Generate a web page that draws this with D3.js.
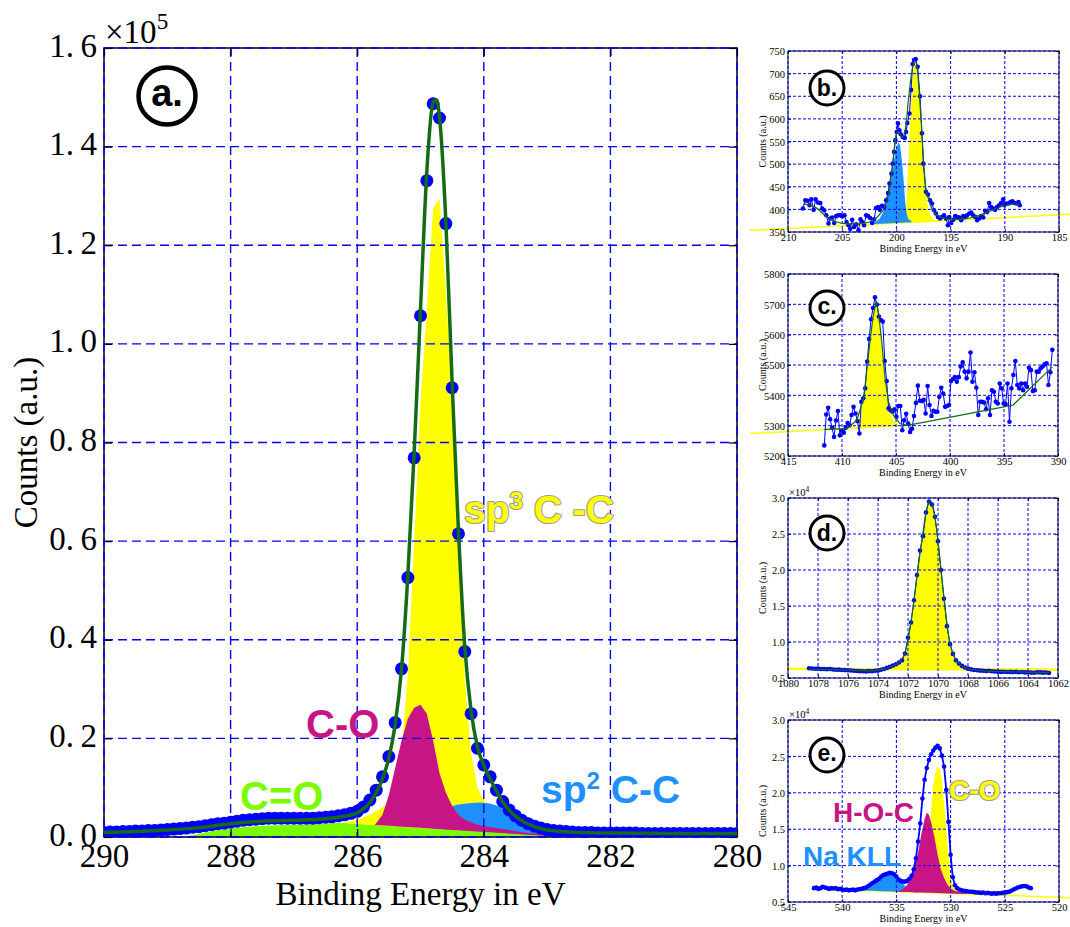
<!DOCTYPE html>
<html>
<head>
<meta charset="utf-8">
<script src="https://cdn.jsdelivr.net/npm/d3@7"></script>
<style>body{margin:0;background:#fff}</style>
</head>
<body>
<svg id="fig" width="1070" height="927"></svg>
<script>
var serif = "'Liberation Serif', 'Times New Roman', serif";
var sans = "'Liberation Sans', Arial, sans-serif";

// ---------- panel a : C 1s (counts x1e5) ----------
var aEnergy = d3.range(101).map(function(i) { return +(290 - i * 0.1).toFixed(1); });
var aCounts = [.009,.010,.010,.011,.011,.012,.012,.013,.013,.014,
  .015,.016,.017,.018,.020,.021,.023,.025,.027,.028,
  .030,.032,.034,.035,.036,.037,.038,.038,.038,.038,
  .038,.038,.038,.038,.039,.040,.041,.043,.045,.048,
  .052,.061,.075,.095,.122,.163,.232,.341,.526,.769,
  1.057,1.331,1.487,1.458,1.244,.911,.615,.376,.250,.180,
  .146,.122,.095,.072,.055,.043,.034,.027,.022,.018,
  .015,.013,.012,.011,.010,.009,.009,.009,.008,.008,
  .008,.008,.008,.008,.008,.007,.007,.007,.007,.007,
  .007,.007,.007,.007,.007,.007,.007,.007,.007,.007,.007];
var aFitE = [290,289.5,289,288.5,288,287.5,287,286.5,286.2,286,285.9,285.8,285.7,285.6,285.5,285.4,285.3,285.2,285.1,285.0,
  284.9,284.8,284.75,284.7,284.6,284.5,284.4,284.3,284.2,284.1,284.0,283.9,283.8,283.7,283.6,283.4,283.2,283.0,282.5,282,281,280];
var aFitV = [.009,.011,.014,.019,.027,.032,.034,.037,.042,.049,.057,.070,.090,.118,.160,.228,.340,.53,.78,1.07,
  1.35,1.49,1.495,1.46,1.25,.92,.62,.385,.255,.183,.145,.118,.093,.071,.054,.033,.021,.014,.009,.008,.007,.007];
var aBgE = [286.28, 282.74], aBgV = [.029, 0];
var aCdoE = [288.8,288.5,288.2,287.9,287.6,287.3,287.0,286.7,286.4,286.28,282.74];
var aCdoV = [0,.006,.014,.019,.022,.024,.025,.026,.028,.029,0];
var aSp3E = [286.2,286.0,285.8,285.6,285.5,285.4,285.3,285.2,285.1,285.0,284.9,284.8,284.7,284.6,284.5,284.4,284.3,284.2,284.1,284.0,283.9,283.7,283.5,283.2,283.0];
var aSp3V = [.03,.035,.045,.06,.072,.10,.17,.33,.60,.88,1.07,1.275,1.295,1.11,.88,.58,.32,.17,.10,.075,.06,.04,.03,.015,.01];
var aSp2E = [284.8,284.6,284.4,284.2,284.05,283.9,283.7,283.5,283.3,283.1,282.9,282.7];
var aSp2V = [.05,.06,.066,.069,.070,.068,.060,.045,.027,.013,.005,.001];
var aCoE = [285.72,285.6,285.5,285.4,285.3,285.2,285.1,285.0,284.9,284.8,284.7,284.6,284.5,284.4,284.3,284.1,283.9,283.6,283.3,283.0];
var aCoV = [.024,.045,.085,.14,.195,.24,.262,.268,.25,.195,.13,.09,.063,.045,.035,.025,.02,.014,.008,.004];
var aXTicks = [290,288,286,284,282,280];
var aYTicks = [0,0.2,0.4,0.6,0.8,1.0,1.2,1.4,1.6];

// ---------- panel b ----------
var bE = [208.62,208.40,208.19,208.01,207.85,207.64,207.45,207.24,207.02,206.84,
  206.66,206.47,206.26,206.10,205.92,205.74,205.55,205.37,205.18,205.00,
  204.79,204.60,204.42,204.26,204.08,203.90,203.71,203.50,203.31,203.16,
  202.98,202.79,202.61,202.42,202.24,202.06,201.87,201.69,201.53,201.32,
  201.13,200.95,200.77,200.64,200.46,200.34,200.21,200.09,199.97,199.85,
  199.72,199.60,199.42,199.23,199.11,198.99,198.80,198.65,198.50,198.37,
  198.22,198.04,197.82,197.64,197.52,197.27,197.09,196.90,196.72,196.53,
  196.35,196.17,195.98,195.80,195.61,195.43,195.25,195.12,194.94,194.75,
  194.57,194.39,194.20,194.02,193.83,193.65,193.47,193.28,193.10,192.91,
  192.73,192.55,192.36,192.18,191.99,191.81,191.63,191.44,191.26,191.07,
  190.89,190.71,190.52,190.34,190.15,190.03,189.85,189.66,189.48,189.29,
  189.11,188.93,188.74,188.62];
var bCounts = [402,420,419,409,422,399,422,415,414,402,
  398,387,369,380,382,370,385,387,387,385,
  387,372,365,357,377,361,367,354,378,372,
  365,387,385,381,370,378,403,405,399,408,
  405,420,436,457,479,501,527,553,571,590,
  575,566,560,558,571,591,612,664,721,730,
  732,715,650,568,501,439,433,420,413,398,
  391,383,380,383,387,380,365,383,370,377,
  385,383,382,376,385,383,387,391,393,387,
  383,376,380,385,382,397,394,414,405,402,
  399,405,409,414,422,409,413,413,416,418,
  414,413,416,409];
var bFitE = [208.6,207.5,206.5,205.5,204.5,203.5,202.5,202.0,201.5,201.0,200.6,200.3,200.1,199.9,199.7,199.5,199.3,199.1,198.9,
  198.6,198.3,198.1,197.9,197.7,197.5,197.3,197.0,196.7,196.3,195.8,195.0,194.0,193.0,192.0,191.0,190.0,189.0,188.6];
var bFitV = [412,405,385,372,368,368,372,378,390,410,450,510,555,572,568,560,565,590,640,
  700,728,715,660,590,510,450,420,400,388,382,378,378,382,390,400,408,412,410];
var bBgE = [213.5, 184.0], bBgV = [353.7, 389.1];
var bBlueE = [202.4,202.0,201.6,201.3,201.0,200.8,200.6,200.4,200.2,200.0,199.8,199.65,199.5,199.35,199.2,199.05,198.9,198.6];
var bBlueV = [369,372,378,390,410,425,445,475,510,535,549,540,510,470,420,390,378,374];
var bYelE = [199.3,199.1,199.0,198.8,198.65,198.5,198.35,198.22,198.1,197.9,197.7,197.5,197.3,197.1,196.9,196.6,196.2,195.8];
var bYelV = [373,400,450,560,640,700,722,727,715,660,580,500,440,405,388,378,375,376];

// ---------- panel c ----------
var cEnergy = d3.range(118).map(function(i) { return 411.64 - i * 0.1805; });
var cCounts = [5235,5337,5359,5321,5293,5263,5317,5348,5268,5283,
  5277,5293,5309,5301,5335,5362,5340,5315,5274,5379,
  5390,5423,5511,5586,5651,5688,5723,5699,5660,5648,
  5643,5513,5447,5357,5351,5346,5354,5329,5365,5365,
  5285,5318,5339,5307,5279,5290,5332,5375,5432,5382,
  5381,5385,5340,5431,5368,5332,5349,5346,5346,5395,
  5425,5406,5362,5365,5368,5447,5454,5460,5445,5460,
  5495,5509,5478,5456,5478,5541,5445,5476,5425,5335,
  5379,5379,5376,5354,5390,5335,5417,5412,5379,5373,
  5439,5423,5373,5371,5439,5313,5423,5467,5513,5434,
  5423,5439,5417,5439,5428,5491,5483,5414,5417,5478,
  5478,5489,5495,5502,5506,5434,5476,5550];
var cFitE = [411.64,409.55,408.63,408.0,407.55,407.15,406.84,406.63,406.32,406.01,405.7,405.24,404.62,404.0,403.08,394.16,393.85,390.52];
var cFitV = [5288,5290,5318,5390,5533,5654,5710,5676,5577,5456,5379,5334,5307,5301,5307,5368,5379,5494];
var cBgE = [418.5, 404.0], cBgV = [5274, 5301];
var cYelE = [409.0,408.6,408.3,408.0,407.7,407.4,407.1,406.9,406.8,406.6,406.4,406.1,405.8,405.5,405.2,404.8,404.4];
var cYelV = [5290,5300,5330,5385,5480,5590,5670,5708,5712,5680,5600,5480,5390,5340,5315,5303,5300];

// ---------- panel d (x1e4) ----------
var dEnergy = d3.range(81).map(function(i) { return 1078.6 - i * 0.2; });
var dCounts = [.635,.632,.628,.630,.625,.626,.622,.624,.618,.615,
  .616,.612,.610,.607,.605,.600,.598,.595,.594,.592,
  .596,.593,.600,.603,.615,.625,.640,.655,.672,.690,
  .715,.745,.840,1.06,1.27,1.58,1.93,2.27,2.47,2.80,
  2.95,2.91,2.74,2.40,2.00,1.60,1.22,.97,.835,.745,
  .700,.668,.645,.630,.620,.612,.607,.603,.600,.597,
  .600,.594,.590,.588,.585,.587,.583,.585,.582,.585,
  .580,.583,.578,.580,.575,.572,.580,.578,.574,.577,.570];
var dFitE = [1078.6,1076,1074.5,1073.5,1072.8,1072.4,1072.1,1071.9,1071.6,1071.3,1071.0,1070.8,1070.6,1070.5,1070.3,1070.1,
  1069.9,1069.7,1069.5,1069.3,1069.1,1068.8,1068.4,1068,1067,1065,1062.6];
var dFitV = [.625,.61,.60,.63,.69,.76,.93,1.15,1.58,2.08,2.52,2.80,2.95,2.96,2.85,2.58,
  2.20,1.80,1.43,1.10,.90,.75,.67,.63,.60,.585,.575];
var dBgE = [1080, 1062], dBgV = [0.63, 0.615];

// ---------- panel e (x1e4) ----------
var eEnergy = d3.range(101).map(function(i) { return 542.6 - i * 0.2; });
var eCounts = [.69,.70,.68,.69,.71,.70,.69,.68,.69,.685,
  .69,.675,.68,.67,.665,.67,.66,.665,.67,.66,
  .67,.675,.68,.69,.70,.72,.74,.76,.78,.80,
  .82,.85,.87,.88,.89,.90,.895,.88,.85,.81,
  .79,.78,.78,.79,.82,.86,.95,1.10,1.33,1.58,
  1.92,2.18,2.34,2.45,2.53,2.58,2.62,2.645,2.61,2.51,
  2.36,2.04,1.60,1.15,.84,.73,.69,.67,.66,.655,
  .65,.645,.64,.64,.635,.63,.63,.625,.63,.62,
  .625,.62,.615,.62,.615,.62,.62,.625,.63,.635,
  .64,.655,.67,.685,.70,.71,.715,.72,.715,.70,.69];
var eBgE = [538.5, 519.0], eBgV = [0.66, 0.56];
var eNaE = [538.4,538.0,537.6,537.2,536.8,536.4,536.0,535.7,535.4,535.0,534.6,534.2,533.8,533.4,533.0];
var eNaV = [.66,.67,.70,.75,.79,.84,.875,.89,.88,.84,.78,.72,.68,.66,.65];
var eHocE = [535.0,534.6,534.2,533.8,533.4,533.0,532.7,532.4,532.2,532.0,531.8,531.5,531.2,530.9,530.6,530.3,530.0,529.6,529.0,528.5];
var eHocV = [.645,.66,.70,.78,.93,1.18,1.43,1.64,1.725,1.70,1.60,1.40,1.15,.95,.83,.74,.69,.65,.63,.62];
var eCoE = [532.6,532.3,532.0,531.8,531.6,531.4,531.2,531.0,530.8,530.6,530.4,530.2,530.0,529.8,529.6,529.3,529.0];
var eCoV = [.655,.80,1.20,1.75,2.10,2.28,2.36,2.33,2.15,1.85,1.50,1.15,.85,.72,.67,.64,.63];

var YELLOW = "#ffff00", MAGENTA = "#c71585", BLUE = "#1e90ff", LGREEN = "#7cfc00", FIT = "#156b15";

var svg = d3.select("#fig");
svg.append("rect").attr("width", 1070).attr("height", 927).attr("fill", "#fff");
var defs = svg.append("defs");

function makePanel(p) {
  var x = d3.scaleLinear().domain(p.xd).range([p.l, p.r]);
  var y = d3.scaleLinear().domain(p.yd).range([p.b, p.t]);
  defs.append("clipPath").attr("id", "clip-" + p.id).append("rect")
    .attr("x", p.l).attr("y", p.t).attr("width", p.r - p.l).attr("height", p.b - p.t);
  return { x: x, y: y, g: svg.append("g"), clip: "url(#clip-" + p.id + ")", p: p };
}

function pairs(es, vs) { return es.map(function(e, i) { return [e, vs[i]]; }); }

function fill(P, es, vs, base, color) {
  var area = d3.area()
    .x(function(d) { return P.x(d[0]); })
    .y0(function(d) { return P.y(base(d[0])); })
    .y1(function(d) { return P.y(Math.max(d[1], base(d[0]))); });
  P.g.append("path").datum(pairs(es, vs)).attr("d", area)
    .attr("fill", color).attr("clip-path", P.clip);
}

function line(P, es, vs, color, w, curve, noclip) {
  var ln = d3.line().x(function(d) { return P.x(d[0]); }).y(function(d) { return P.y(d[1]); });
  if (curve) ln.curve(curve);
  var path = P.g.append("path").datum(pairs(es, vs)).attr("d", ln)
    .attr("fill", "none").attr("stroke", color).attr("stroke-width", w).attr("stroke-linejoin", "round");
  if (!noclip) path.attr("clip-path", P.clip);
}

function dots(P, es, vs, r) {
  P.g.append("g").attr("clip-path", P.clip).selectAll("circle").data(pairs(es, vs)).join("circle")
    .attr("cx", function(d) { return P.x(d[0]); })
    .attr("cy", function(d) { return P.y(d[1]); })
    .attr("r", r).attr("fill", "#0000ff");
}

function axes(P, o) {
  var p = P.p, g = P.g;
  g.append("rect").attr("x", p.l).attr("y", p.t).attr("width", p.r - p.l).attr("height", p.b - p.t)
    .attr("fill", "none").attr("stroke", "#000").attr("stroke-width", o.fw);
  var gg = g.append("g").attr("stroke", "#0000ff").attr("stroke-width", o.gw).attr("stroke-dasharray", o.dash);
  gg.selectAll("line.gx").data(o.xt).join("line").attr("class", "gx")
    .attr("x1", function(d) { return P.x(d); }).attr("x2", function(d) { return P.x(d); })
    .attr("y1", p.t).attr("y2", p.b);
  gg.selectAll("line.gy").data(o.yt).join("line").attr("class", "gy")
    .attr("y1", function(d) { return P.y(d); }).attr("y2", function(d) { return P.y(d); })
    .attr("x1", p.l).attr("x2", p.r);

  var ab = g.append("g").attr("transform", "translate(0," + p.b + ")")
    .call(d3.axisBottom(P.x).tickValues(o.xt).tickFormat(o.fx).tickSizeInner(-o.tl).tickSizeOuter(0));
  var at = g.append("g").attr("transform", "translate(0," + p.t + ")")
    .call(d3.axisTop(P.x).tickValues(o.xt).tickFormat("").tickSizeInner(-o.tl).tickSizeOuter(0));
  var al = g.append("g").attr("transform", "translate(" + p.l + ",0)")
    .call(d3.axisLeft(P.y).tickValues(o.yt).tickFormat(o.fy).tickSizeInner(-o.tl).tickSizeOuter(0));
  var ar = g.append("g").attr("transform", "translate(" + p.r + ",0)")
    .call(d3.axisRight(P.y).tickValues(o.yt).tickFormat("").tickSizeInner(-o.tl).tickSizeOuter(0));
  [ab, at, al, ar].forEach(function(a) {
    a.select(".domain").remove();
    a.selectAll("line").attr("stroke", "#000").attr("stroke-width", o.tw);
  });
  ab.selectAll("text").attr("y", o.xoff).attr("dy", null)
    .style("font", o.fs + "px " + serif).attr("fill", "#000");
  al.selectAll("text").attr("x", -o.yoff).attr("dy", o.ydy)
    .style("font", o.fs + "px " + serif).attr("fill", "#000");

  // axis titles
  svg.append("text").attr("x", (p.l + p.r) / 2).attr("y", p.b + o.xlab)
    .attr("text-anchor", "middle").style("font", o.lfs + "px " + serif).text("Binding Energy in eV");
  svg.append("text").attr("transform", "translate(" + o.ylabx + "," + (p.t + p.b) / 2 + ") rotate(-90)")
    .attr("text-anchor", "middle").style("font", o.lfs + "px " + serif).text("Counts (a.u.)");
}

function offsetText(x, y, fs, exp) {
  var t = svg.append("text").attr("x", x).attr("y", y).style("font", fs + "px " + serif);
  t.append("tspan").text("\u00d710");
  t.append("tspan").attr("font-size", fs * 0.7).attr("dy", -fs * 0.42).text(exp);
}

function badge(cx, cy, r, sw, fs, txt, dy) {
  svg.append("circle").attr("cx", cx).attr("cy", cy).attr("r", r)
    .attr("fill", "#fff").attr("stroke", "#000").attr("stroke-width", sw);
  svg.append("text").attr("x", cx).attr("y", cy + dy).attr("text-anchor", "middle")
    .style("font", "bold " + fs + "px " + sans).text(txt);
}

function label(x, y, fs, parts, color, outline) {
  var t = svg.append("text").attr("x", x).attr("y", y)
    .style("font", "bold " + fs + "px " + sans).style("white-space", "pre").attr("fill", color);
  if (outline) t.attr("stroke", outline).attr("stroke-width", 2.2).attr("paint-order", "stroke").attr("stroke-linejoin", "round");
  parts.forEach(function(pt) {
    var s = t.append("tspan").text(pt.t);
    if (pt.sup) s.attr("font-size", fs * 0.62).attr("dy", -fs * 0.36);
    if (pt.back) s.attr("dy", fs * 0.36);
  });
}

// ================= panel a =================
var A = makePanel({ id: "a", xd: [290, 280], yd: [0, 1.6], l: 104, r: 737, t: 48, b: 837 });
var aBg = d3.scaleLinear().domain(aBgE).range(aBgV).clamp(true);
fill(A, aCdoE, aCdoV, function() { return 0; }, LGREEN);
fill(A, aSp3E, aSp3V, aBg, YELLOW);
fill(A, aSp2E, aSp2V, aBg, BLUE);
fill(A, aCoE, aCoV, aBg, MAGENTA);
axes(A, { xt: aXTicks, yt: aYTicks, fx: d3.format("d"),
  fy: function(d) { return d.toFixed(1).replace(".", ".\u2009"); },
  fw: 1.5, gw: 1.4, dash: "9,5", tl: 8, tw: 1.2, fs: 33, xoff: 30, yoff: 7, ydy: 8,
  lfs: 33, xlab: 68, ylabx: 37 });
dots(A, aEnergy, aCounts, 6.5);
line(A, aFitE, aFitV, FIT, 3.5, d3.curveMonotoneX);
offsetText(105, 43, 33, "5");
badge(167, 96, 28.5, 4.5, 38, "a.", 10);
label(464, 523, 39, [{ t: "sp" }, { t: "3", sup: true }, { t: " C -C", back: true }], YELLOW, "#9c9c9c");
label(306, 738, 40, [{ t: "C-O" }], MAGENTA);
label(240, 810, 40, [{ t: "C=O" }], LGREEN);
label(541, 803, 39, [{ t: "sp" }, { t: "2", sup: true }, { t: " C-C", back: true }], BLUE);

// ================= small panels =================
var smallAxis = { fw: 1, gw: 1, dash: "3,2", tl: 3, tw: 0.8, fs: 10.5, xoff: 9, yoff: 3, ydy: "0.35em",
  lfs: 10, xlab: 19.5, ylabx: 766 };

// b
var B = makePanel({ id: "b", xd: [210, 185], yd: [350, 750], l: 788, r: 1059, t: 51, b: 232 });
var bBg = d3.scaleLinear().domain(bBgE).range(bBgV);
line(B, bBgE, bBgV, YELLOW, 1.5, null, true);
fill(B, bYelE, bYelV, bBg, YELLOW);
fill(B, bBlueE, bBlueV, bBg, BLUE);
axes(B, Object.assign({}, smallAxis, { xt: [210,205,200,195,190,185], yt: d3.range(350, 751, 50),
  fx: d3.format("d"), fy: d3.format("d") }));
line(B, bE, bCounts, "#0000ff", 1);
dots(B, bE, bCounts, 2.3);
line(B, bFitE, bFitV, FIT, 1.2, d3.curveMonotoneX);
badge(827, 88, 17, 3, 23, "b.", 8);

// c
var C = makePanel({ id: "c", xd: [415, 390], yd: [5200, 5800], l: 788, r: 1058, t: 274, b: 456 });
var cBg = d3.scaleLinear().domain(cBgE).range(cBgV);
line(C, cBgE, cBgV, YELLOW, 1.5, null, true);
fill(C, cYelE, cYelV, cBg, YELLOW);
axes(C, Object.assign({}, smallAxis, { xt: [415,410,405,400,395,390], yt: d3.range(5200, 5801, 100),
  fx: d3.format("d"), fy: d3.format("d") }));
line(C, cEnergy, cCounts, "#0000ff", 1);
dots(C, cEnergy, cCounts, 2.3);
line(C, cFitE, cFitV, FIT, 1.2);
badge(827, 308, 17, 3, 23, "c.", 6);

// d
var D = makePanel({ id: "d", xd: [1080, 1062], yd: [0.5, 3.0], l: 788, r: 1058, t: 498, b: 678 });
var dBg = d3.scaleLinear().domain(dBgE).range(dBgV);
fill(D, dFitE.slice(2, 25), dFitV.slice(2, 25), dBg, YELLOW);
line(D, dBgE, dBgV, YELLOW, 2.5);
axes(D, Object.assign({}, smallAxis, { xt: d3.range(1080, 1061, -2), yt: [0.5,1.0,1.5,2.0,2.5,3.0],
  fx: d3.format("d"), fy: d3.format(".1f") }));
line(D, dEnergy, dCounts, "#0000ff", 1);
dots(D, dEnergy, dCounts, 2.3);
line(D, dFitE, dFitV, FIT, 1.2, d3.curveMonotoneX);
offsetText(789, 496, 10.5, "4");
badge(827, 533, 17, 3, 23, "d.", 8);

// e
var E = makePanel({ id: "e", xd: [545, 520], yd: [0.5, 3.0], l: 788, r: 1059, t: 720, b: 902 });
var eBg = d3.scaleLinear().domain(eBgE).range(eBgV);
line(E, eBgE, eBgV, YELLOW, 1.5, null, true);
fill(E, eNaE, eNaV, eBg, BLUE);
fill(E, eCoE, eCoV, eBg, YELLOW);
fill(E, eHocE, eHocV, eBg, MAGENTA);
axes(E, Object.assign({}, smallAxis, { xt: [545,540,535,530,525,520], yt: [0.5,1.0,1.5,2.0,2.5,3.0],
  fx: d3.format("d"), fy: d3.format(".1f") }));
line(E, eEnergy, eCounts, "#0000ff", 1.8);
dots(E, eEnergy, eCounts, 2.3);
offsetText(789, 718, 10.5, "4");
badge(827, 755, 17, 3, 23, "e.", 6);
label(949, 800, 28, [{ t: "C-O" }], YELLOW, "#9c9c9c");
label(833, 822, 28, [{ t: "H-O-C" }], MAGENTA);
label(803, 866, 28, [{ t: "Na KLL" }], BLUE);
</script>
</body>
</html>
